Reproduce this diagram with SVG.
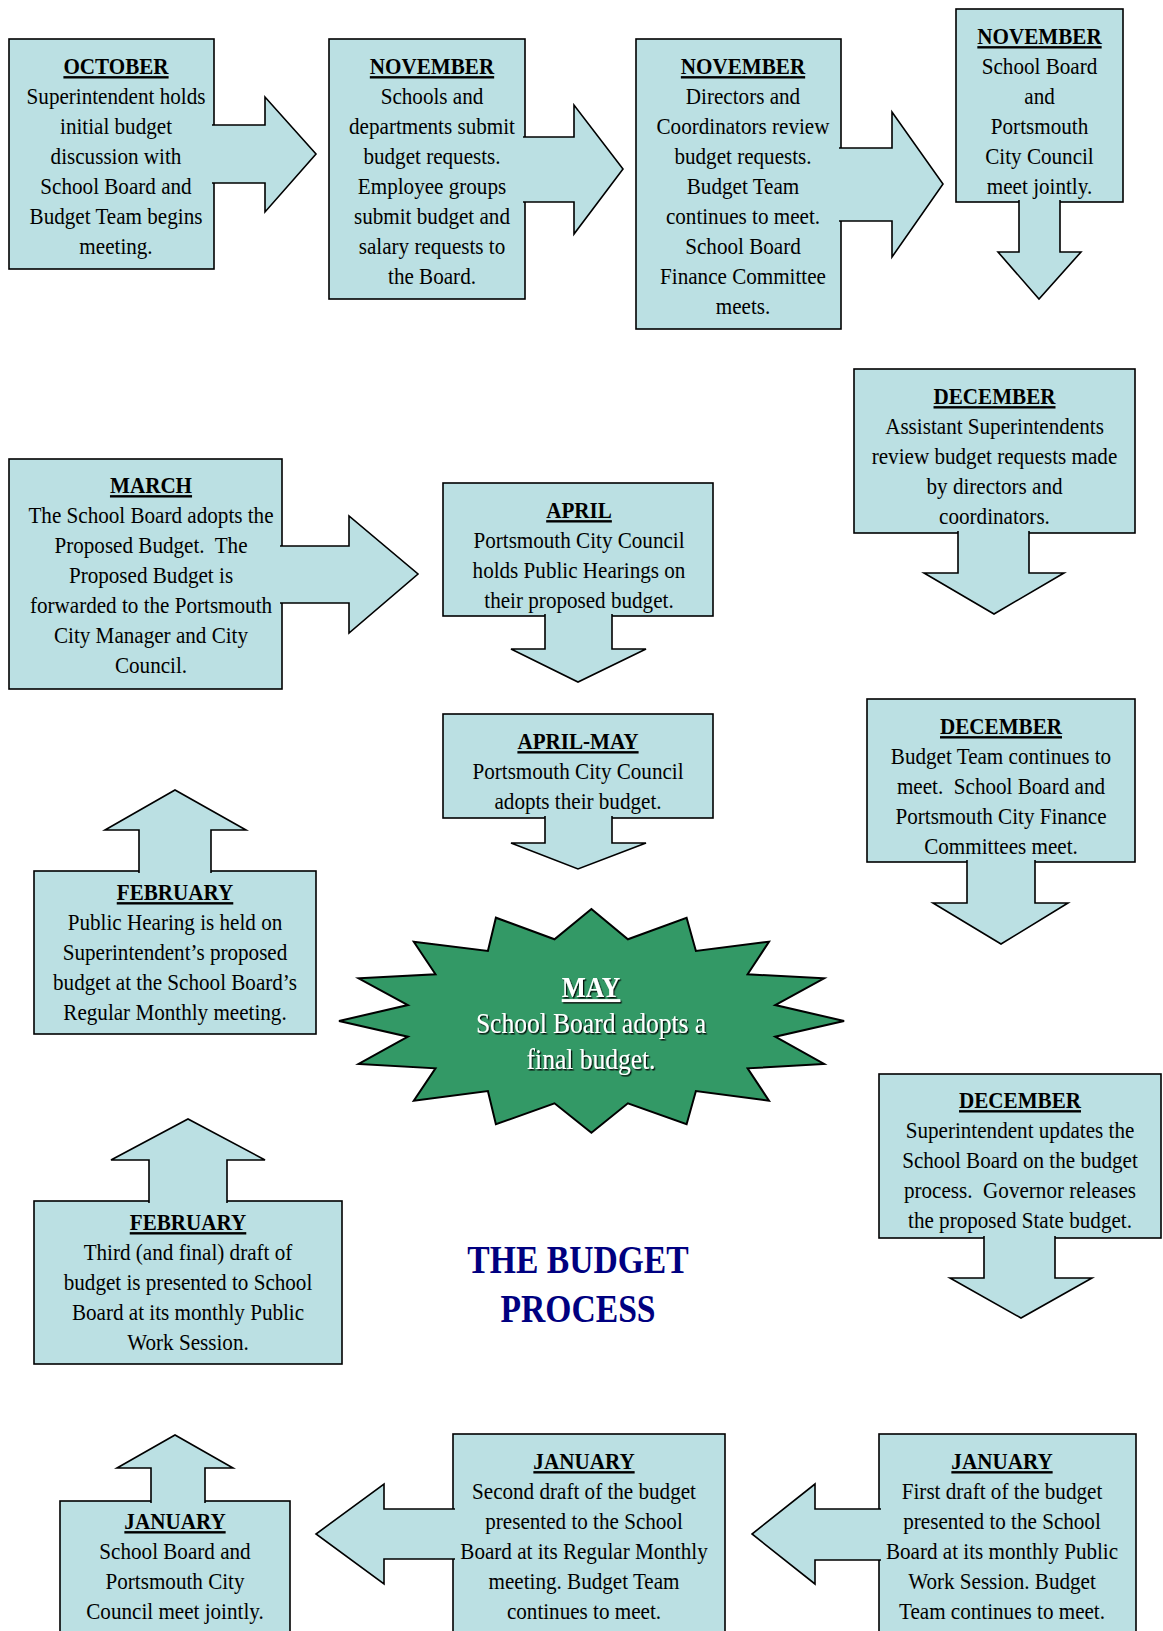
<svg xmlns="http://www.w3.org/2000/svg" width="1163" height="1631" viewBox="0 0 1163 1631">
<defs>
<style>
.box{fill:#BBE0E3;stroke:#000;stroke-width:1.6}
.arr{fill:#BBE0E3;stroke:#000;stroke-width:1.6;stroke-linejoin:miter}
.t{font-family:"Liberation Serif","Times New Roman",serif;font-size:24px;fill:#000;text-anchor:middle}
.h{font-family:"Liberation Serif","Times New Roman",serif;font-size:24px;fill:#000;text-anchor:middle;font-weight:bold;text-decoration:underline}
.star{fill:#339966;stroke:#000;stroke-width:2}
.w{font-family:"Liberation Serif","Times New Roman",serif;font-size:29px;fill:#fff;text-anchor:middle;filter:url(#sh)}
.ttl{font-family:"Liberation Serif","Times New Roman",serif;font-size:41px;font-weight:bold;fill:#000080;text-anchor:middle}
</style>
<filter id="sh" x="-10%" y="-20%" width="120%" height="140%">
<feDropShadow dx="1.5" dy="1.5" stdDeviation="0.4" flood-color="#000" flood-opacity="0.9"/>
</filter>
</defs>
<rect width="1163" height="1631" fill="#fff"/>

<g id="n-october">
<rect class="box" x="9" y="39" width="205" height="230"/>
<text class="h" transform="translate(116 0) scale(0.88 1)" x="0" y="74">OCTOBER</text>
<text class="t" transform="translate(116 0) scale(0.88 1)"><tspan x="0" y="104">Superintendent holds</tspan><tspan x="0" y="134">initial budget</tspan><tspan x="0" y="164">discussion with</tspan><tspan x="0" y="194">School Board and</tspan><tspan x="0" y="224">Budget Team begins</tspan><tspan x="0" y="254">meeting.</tspan></text>
</g>

<g id="n-november1">
<rect class="box" x="329" y="39" width="196" height="260"/>
<text class="h" transform="translate(432 0) scale(0.88 1)" x="0" y="74">NOVEMBER</text>
<text class="t" transform="translate(432 0) scale(0.88 1)"><tspan x="0" y="104">Schools and</tspan><tspan x="0" y="134">departments submit</tspan><tspan x="0" y="164">budget requests.</tspan><tspan x="0" y="194">Employee groups</tspan><tspan x="0" y="224">submit budget and</tspan><tspan x="0" y="254">salary requests to</tspan><tspan x="0" y="284">the Board.</tspan></text>
</g>

<g id="n-november2">
<rect class="box" x="636" y="39" width="205" height="290"/>
<text class="h" transform="translate(743 0) scale(0.88 1)" x="0" y="74">NOVEMBER</text>
<text class="t" transform="translate(743 0) scale(0.88 1)"><tspan x="0" y="104">Directors and</tspan><tspan x="0" y="134">Coordinators review</tspan><tspan x="0" y="164">budget requests.</tspan><tspan x="0" y="194">Budget Team</tspan><tspan x="0" y="224">continues to meet.</tspan><tspan x="0" y="254">School Board</tspan><tspan x="0" y="284">Finance Committee</tspan><tspan x="0" y="314">meets.</tspan></text>
</g>

<g id="n-november3">
<rect class="box" x="956" y="9" width="167" height="193"/>
<text class="h" transform="translate(1039.5 0) scale(0.88 1)" x="0" y="44">NOVEMBER</text>
<text class="t" transform="translate(1039.5 0) scale(0.88 1)"><tspan x="0" y="74">School Board</tspan><tspan x="0" y="104">and</tspan><tspan x="0" y="134">Portsmouth</tspan><tspan x="0" y="164">City Council</tspan><tspan x="0" y="194">meet jointly.</tspan></text>
</g>

<g id="n-december1">
<rect class="box" x="854" y="369" width="281" height="164"/>
<text class="h" transform="translate(994.5 0) scale(0.88 1)" x="0" y="404">DECEMBER</text>
<text class="t" transform="translate(994.5 0) scale(0.88 1)"><tspan x="0" y="434">Assistant Superintendents</tspan><tspan x="0" y="464">review budget requests made</tspan><tspan x="0" y="494">by directors and</tspan><tspan x="0" y="524">coordinators.</tspan></text>
</g>

<g id="n-december2">
<rect class="box" x="867" y="699" width="268" height="163"/>
<text class="h" transform="translate(1001 0) scale(0.88 1)" x="0" y="734">DECEMBER</text>
<text class="t" transform="translate(1001 0) scale(0.88 1)"><tspan x="0" y="764">Budget Team continues to</tspan><tspan x="0" y="794">meet.&#160; School Board and</tspan><tspan x="0" y="824">Portsmouth City Finance</tspan><tspan x="0" y="854">Committees meet.</tspan></text>
</g>

<g id="n-december3">
<rect class="box" x="879" y="1074" width="282" height="164"/>
<text class="h" transform="translate(1020 0) scale(0.88 1)" x="0" y="1108">DECEMBER</text>
<text class="t" transform="translate(1020 0) scale(0.88 1)"><tspan x="0" y="1138">Superintendent updates the</tspan><tspan x="0" y="1168">School Board on the budget</tspan><tspan x="0" y="1198">process.&#160; Governor releases</tspan><tspan x="0" y="1228">the proposed State budget.</tspan></text>
</g>

<g id="n-january1">
<rect class="box" x="879" y="1434" width="257" height="215"/>
<text class="h" transform="translate(1002 0) scale(0.88 1)" x="0" y="1469">JANUARY</text>
<text class="t" transform="translate(1002 0) scale(0.88 1)"><tspan x="0" y="1499">First draft of the budget</tspan><tspan x="0" y="1529">presented to the School</tspan><tspan x="0" y="1559">Board at its monthly Public</tspan><tspan x="0" y="1589">Work Session. Budget</tspan><tspan x="0" y="1619">Team continues to meet.</tspan></text>
</g>

<g id="n-january2">
<rect class="box" x="453" y="1434" width="272" height="215"/>
<text class="h" transform="translate(584 0) scale(0.88 1)" x="0" y="1469">JANUARY</text>
<text class="t" transform="translate(584 0) scale(0.88 1)"><tspan x="0" y="1499">Second draft of the budget</tspan><tspan x="0" y="1529">presented to the School</tspan><tspan x="0" y="1559">Board at its Regular Monthly</tspan><tspan x="0" y="1589">meeting. Budget Team</tspan><tspan x="0" y="1619">continues to meet.</tspan></text>
</g>

<g id="n-january3">
<rect class="box" x="60" y="1501" width="230" height="148"/>
<text class="h" transform="translate(175 0) scale(0.88 1)" x="0" y="1529">JANUARY</text>
<text class="t" transform="translate(175 0) scale(0.88 1)"><tspan x="0" y="1559">School Board and</tspan><tspan x="0" y="1589">Portsmouth City</tspan><tspan x="0" y="1619">Council meet jointly.</tspan></text>
</g>

<g id="n-february2">
<rect class="box" x="34" y="1201" width="308" height="163"/>
<text class="h" transform="translate(188 0) scale(0.88 1)" x="0" y="1230">FEBRUARY</text>
<text class="t" transform="translate(188 0) scale(0.88 1)"><tspan x="0" y="1260">Third (and final) draft of</tspan><tspan x="0" y="1290">budget is presented to School</tspan><tspan x="0" y="1320">Board at its monthly Public</tspan><tspan x="0" y="1350">Work Session.</tspan></text>
</g>

<g id="n-february1">
<rect class="box" x="34" y="871" width="282" height="163"/>
<text class="h" transform="translate(175 0) scale(0.88 1)" x="0" y="900">FEBRUARY</text>
<text class="t" transform="translate(175 0) scale(0.88 1)"><tspan x="0" y="930">Public Hearing is held on</tspan><tspan x="0" y="960">Superintendent’s proposed</tspan><tspan x="0" y="990">budget at the School Board’s</tspan><tspan x="0" y="1020">Regular Monthly meeting.</tspan></text>
</g>

<g id="n-march">
<rect class="box" x="9" y="459" width="273" height="230"/>
<text class="h" transform="translate(151 0) scale(0.88 1)" x="0" y="493">MARCH</text>
<text class="t" transform="translate(151 0) scale(0.88 1)"><tspan x="0" y="523">The School Board adopts the</tspan><tspan x="0" y="553">Proposed Budget.&#160; The</tspan><tspan x="0" y="583">Proposed Budget is</tspan><tspan x="0" y="613">forwarded to the Portsmouth</tspan><tspan x="0" y="643">City Manager and City</tspan><tspan x="0" y="673">Council.</tspan></text>
</g>

<g id="n-april">
<rect class="box" x="443" y="483" width="270" height="133"/>
<text class="h" transform="translate(579 0) scale(0.88 1)" x="0" y="518">APRIL</text>
<text class="t" transform="translate(579 0) scale(0.88 1)"><tspan x="0" y="548">Portsmouth City Council</tspan><tspan x="0" y="578">holds Public Hearings on</tspan><tspan x="0" y="608">their proposed budget.</tspan></text>
</g>

<g id="n-april-may">
<rect class="box" x="443" y="714" width="270" height="104"/>
<text class="h" transform="translate(578 0) scale(0.88 1)" x="0" y="749">APRIL-MAY</text>
<text class="t" transform="translate(578 0) scale(0.88 1)"><tspan x="0" y="779">Portsmouth City Council</tspan><tspan x="0" y="809">adopts their budget.</tspan></text>
</g>

<g id="n-may">
<polygon class="star" points="591.4,909 627.9,939.3 686.6,917.7 695.9,951 769,941.7 747.6,974.3 824.1,978.3 775.2,1005 844.1,1021 775.2,1036.7 824.1,1064 747.6,1068.3 769,1100.7 695.9,1091 686.6,1124.3 627.9,1103.3 591.4,1132.7 554.5,1103.3 495.9,1124.3 487.9,1091 413.8,1100.7 435.5,1068.3 358.6,1064 407.9,1036.7 339,1021 407.9,1005 358.6,978.3 435.5,974.3 413.8,941.7 487.9,951 495.9,917.7 554.5,939.3"/>
<text class="w" transform="translate(591 0) scale(0.88 1)"><tspan x="0" y="997" font-weight="bold" text-decoration="underline">MAY</tspan><tspan x="0" y="1033">School Board adopts a</tspan><tspan x="0" y="1069">final budget.</tspan></text>
</g>

<g id="n-title">
<text class="ttl" transform="translate(578 0) scale(0.82 1)"><tspan x="0" y="1273">THE BUDGET</tspan><tspan x="0" y="1322">PROCESS</tspan></text>
</g>

<g id="connectors">
<path class="arr" d="M212,125 L265,125 L265,97 L316,154 L265,212 L265,183 L212,183"/>
<path class="arr" d="M523,137 L574,137 L574,105 L623,169 L574,234 L574,202 L523,202"/>
<path class="arr" d="M839,148 L892,148 L892,112 L943,184 L892,257 L892,221 L839,221"/>
<path class="arr" d="M1019,200 L1019,252 L998,252 L1039,299 L1081,252 L1060,252 L1060,200"/>
<path class="arr" d="M958,531 L958,573 L924,573 L994,614 L1064,573 L1029,573 L1029,531"/>
<path class="arr" d="M967,860 L967,903 L933,903 L1001,944 L1068,903 L1035,903 L1035,860"/>
<path class="arr" d="M984,1236 L984,1278 L950,1278 L1021,1318 L1092,1278 L1055,1278 L1055,1236"/>
<path class="arr" d="M881,1509 L815,1509 L815,1484 L752,1534 L815,1584 L815,1560 L881,1560"/>
<path class="arr" d="M455,1509 L384,1509 L384,1484 L316,1534 L384,1584 L384,1559 L455,1559"/>
<path class="arr" d="M151,1503 L151,1468 L117,1468 L175,1435 L233,1468 L205,1468 L205,1503"/>
<path class="arr" d="M149,1203 L149,1160 L111,1160 L188,1119 L265,1160 L227,1160 L227,1203"/>
<path class="arr" d="M139,873 L139,830 L105,830 L175,790 L246,830 L211,830 L211,873"/>
<path class="arr" d="M280,546 L349,546 L349,516 L418,574 L349,633 L349,603 L280,603"/>
<path class="arr" d="M545,614 L545,649 L511,649 L578,682 L646,649 L612,649 L612,614"/>
<path class="arr" d="M545,816 L545,843 L511,843 L578,869 L646,843 L612,843 L612,816"/>
</g>
</svg>
